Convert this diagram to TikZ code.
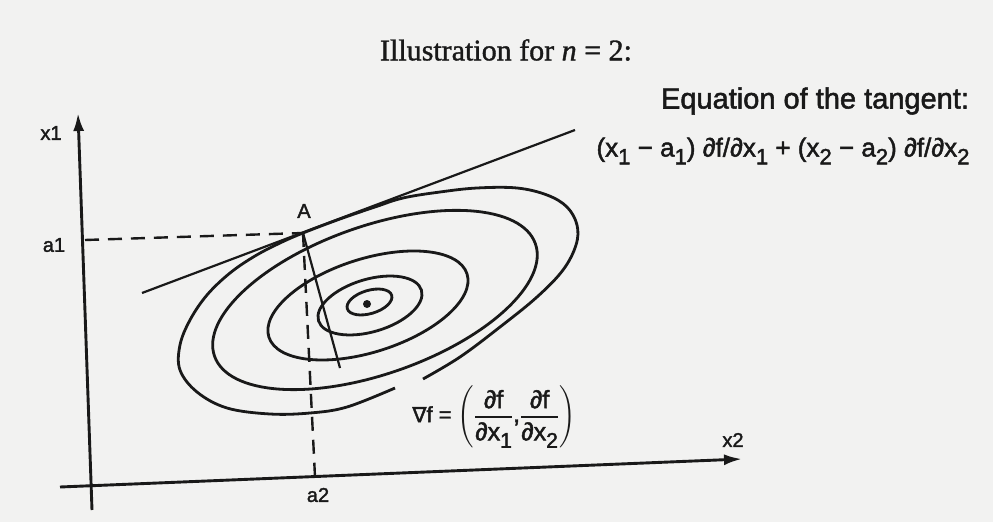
\documentclass[tikz,border=0pt]{standalone}
\usepackage{fontspec}
\usepackage{amsmath}
\usepackage{graphicx}
\setmainfont{Liberation Serif}[FakeBold=1.2]
\newfontfamily\hv{Liberation Sans}[FakeBold=1.8]
\newfontfamily\dvs{DejaVu Sans}[FakeBold=1.8]
\usetikzlibrary{arrows.meta}
\definecolor{paper}{RGB}{242,242,241}
\definecolor{ink}{RGB}{25,25,25}
\newcommand\lowsub[1]{\raisebox{-0.3em}{\scalebox{0.85}{#1}}}
\begin{document}
\begin{tikzpicture}[x=1pt,y=-1pt,
  contour/.style={draw=ink,line width=2.8pt},
  axis/.style={draw=ink,line width=2.9pt,-{Latex[length=18pt,width=11pt]}},
  guide/.style={draw=ink,line width=2.2pt},
  dashline/.style={draw=ink,line width=2.4pt,dash pattern=on 14pt off 9pt},
  lbl/.style={text=ink,inner sep=0pt,font=\hv\fontsize{20}{22}\selectfont},
  txt/.style={text=ink,inner sep=0pt}]
\fill[paper] (0,0) rectangle (993,522);
\useasboundingbox (0,0) rectangle (993,522);
% key points
\coordinate (Ybot) at (92,510);
\coordinate (Ytop) at (78,113);
\coordinate (Xleft) at (60,487);
\coordinate (Xright) at (742,459);
\coordinate (A) at (303,233);
\coordinate (a1p) at (85,240);
\coordinate (a2p) at (315,477);
\coordinate (T1) at (142,293);
\coordinate (T2) at (575,130);
\coordinate (G) at (340,368);
\coordinate (C1) at (369.5,302);
\coordinate (C2) at (370,305.5);
\coordinate (C3) at (368,305.5);
\coordinate (C4) at (375,300);
\coordinate (M) at (367,304);
% axes
\draw[axis] (Ybot) -- (Ytop);
\draw[axis] (Xleft) -- (Xright);
% dashed guides
\draw[dashline] (a1p) -- (A);
\draw[dashline] (A) -- (a2p);
% contours
\draw[contour, rotate around={16.8:(C1)}] (C1) ellipse [x radius=23.2pt, y radius=11.6pt];
\draw[contour, rotate around={16.5:(C2)}] (C2) ellipse [x radius=53.7pt, y radius=26.3pt];
\draw[contour, rotate around={17.7:(C3)}] (C3) ellipse [x radius=104pt, y radius=46.6pt];
\draw[contour, rotate around={19.3:(C4)}] (C4) ellipse [x radius=170pt, y radius=74pt];
\draw[contour] plot[smooth, tension=0.6] coordinates {(423,379) (460,357) (500,327) (537,297) (563,270) (576,245) (577,225) (567,207) (547,195) (517,188) (477,188) (440,192) (403,198) (375,207) (340,219) (303,233) (280,243) (255,256) (230,273) (207,295) (190,320) (180,345) (180,370) (197,392) (227,408) (270,414) (310,413) (347,407) (395,388)};
\fill[ink] (M) circle (4pt);
% tangent and gradient
\draw[guide] (T1) -- (T2);
\draw[guide] (A) -- (G);
% labels
\node[lbl] (lx1) at (51,133) {x1};
\node[lbl] (la1) at (54,245) {a1};
\node[lbl] (lA) at (304,211) {A};
\node[lbl] (la2) at (318,495) {a2};
\node[lbl] (lx2) at (733,440) {x2};
\node[txt] (title) at (506,50) {\fontsize{30}{36}\selectfont Illustration for {\itshape n} = 2:};
\node[txt] (eqhead) at (815,101) {\hv\fontsize{29}{32}\selectfont Equation of the tangent:};
\node[txt] (eqn) at (783,151) {\hv\fontsize{26}{30}\selectfont (x\lowsub{1} − a\lowsub{1}) ∂f/∂x\lowsub{1} + (x\lowsub{2} − a\lowsub{2}) ∂f/∂x\lowsub{2}};
\node[txt] (grad) at (494,417) {\hv\fontsize{22}{24}\selectfont {\dvs\fontsize{21}{22}\selectfont ∇}f = $\left(\genfrac{}{}{1.5pt}{0}{\hbox{\hv\fontsize{25}{26}\selectfont ∂f}}{\hbox{\hv\fontsize{25}{26}\selectfont ∂x\lowsub{1}}}\hbox{\hv\fontsize{25}{26}\selectfont ,}\genfrac{}{}{1.5pt}{0}{\hbox{\hv\fontsize{25}{26}\selectfont ∂f}}{\hbox{\hv\fontsize{25}{26}\selectfont ∂x\lowsub{2}}}\right)$};
\end{tikzpicture}
\end{document}
